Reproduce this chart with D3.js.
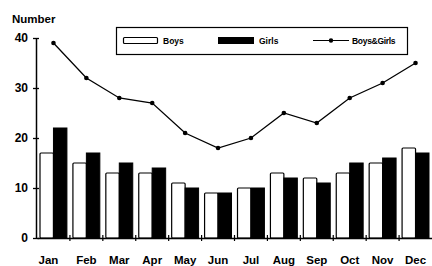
<!DOCTYPE html>
<html>
<head>
<meta charset="utf-8">
<script src="https://cdn.jsdelivr.net/npm/d3@7"></script>
<style>
  body { margin: 0; background: #fff; }
  svg { display: block; font-family: "Liberation Sans", Arial, sans-serif; font-weight: bold; }
</style>
</head>
<body>
<div id="chart"></div>
<script>
const months = ["Jan", "Feb", "Mar", "Apr", "May", "Jun", "Jul", "Aug", "Sep", "Oct", "Nov", "Dec"];
const boys = [17, 15, 13, 13, 11, 9, 10, 13, 12, 13, 15, 18];
const girls = [22, 17, 15, 14, 10, 9, 10, 12, 11, 15, 16, 17];
const total = [39, 32, 28, 27, 21, 18, 20, 25, 23, 28, 31, 35];
const yTicks = [0, 10, 20, 30, 40];

const width = 432;
const height = 266;
const margin = { top: 38, right: 0, bottom: 28, left: 37 };

const svg = d3.select("#chart")
  .append("svg")
  .attr("width", width)
  .attr("height", height);

const x = d3.scaleBand()
  .domain(months)
  .range([margin.left, width - margin.right]);

const sub = d3.scaleBand()
  .domain(["boys", "girls"])
  .range([3, x.bandwidth() - 3]);

const y = d3.scaleLinear()
  .domain([0, 40])
  .range([height - margin.bottom, margin.top]);

// bars
const data = months.map((m, i) => ({ month: m, boys: boys[i], girls: girls[i] }));
const groups = svg.selectAll(".month")
  .data(data)
  .enter()
  .append("g")
  .attr("transform", (d) => `translate(${x(d.month)}, 0)`);

groups.append("rect")
  .attr("x", sub("boys"))
  .attr("y", (d) => y(d.boys))
  .attr("width", sub.bandwidth())
  .attr("height", (d) => y(0) - y(d.boys))
  .attr("rx", 1)
  .attr("fill", "#fff")
  .attr("stroke", "#000")
  .attr("stroke-width", 1.2);

groups.append("rect")
  .attr("x", sub("girls"))
  .attr("y", (d) => y(d.girls))
  .attr("width", sub.bandwidth())
  .attr("height", (d) => y(0) - y(d.girls))
  .attr("fill", "#000")
  .attr("stroke", "#000")
  .attr("stroke-width", 1);

// line
const line = d3.line()
  .x((d, i) => x(months[i]) + x.bandwidth() / 2)
  .y((d) => y(d));

svg.append("path")
  .datum(total)
  .attr("d", line)
  .attr("fill", "none")
  .attr("stroke", "#000")
  .attr("stroke-width", 1.3);

svg.selectAll(".dot")
  .data(total)
  .enter()
  .append("circle")
  .attr("cx", (d, i) => x(months[i]) + x.bandwidth() / 2)
  .attr("cy", (d) => y(d))
  .attr("r", 2.3)
  .attr("fill", "#000");

// y axis
const yAxis = svg.append("g")
  .attr("transform", `translate(${margin.left - 1}, 0)`)
  .call(d3.axisLeft(y).tickValues(yTicks).tickSize(3).tickSizeOuter(0));
yAxis.select(".domain").attr("stroke-width", 1.5);
yAxis.selectAll(".tick line").attr("x1", 3).attr("x2", -3).attr("stroke-width", 1.3);
yAxis.selectAll(".tick text")
  .attr("x", -8)
  .attr("font-size", 12)
  .attr("font-weight", "bold")
  .attr("font-family", "Liberation Sans, Arial, sans-serif");

// x axis
const xAxis = svg.append("g")
  .attr("transform", `translate(0, ${y(0)})`)
  .call(d3.axisBottom(x).tickSize(0).tickSizeOuter(0));
xAxis.select(".domain").attr("stroke-width", 1.5);
xAxis.selectAll(".tick text")
  .attr("y", 18)
  .attr("dx", (d, i) => (i === 0 ? -5 : 0))
  .attr("font-size", 11.5)
  .attr("font-weight", "bold")
  .attr("font-family", "Liberation Sans, Arial, sans-serif");

svg.append("g")
  .selectAll("line")
  .data(months.slice(1))
  .enter()
  .append("line")
  .attr("x1", (d) => x(d))
  .attr("x2", (d) => x(d))
  .attr("y1", y(0) - 3)
  .attr("y2", y(0) + 3)
  .attr("stroke", "#000")
  .attr("stroke-width", 1.2);

svg.append("text")
  .attr("x", 12)
  .attr("y", 23)
  .attr("font-size", 11.5)
  .text("Number");

// legend
const legend = svg.append("g");
legend.append("rect")
  .attr("x", 116.5)
  .attr("y", 27.5)
  .attr("width", 291)
  .attr("height", 27)
  .attr("fill", "#fff")
  .attr("stroke", "#000")
  .attr("stroke-width", 1.2);

legend.append("rect")
  .attr("x", 123.5).attr("y", 37.5)
  .attr("width", 34).attr("height", 6)
  .attr("rx", 1)
  .attr("fill", "#fff").attr("stroke", "#000").attr("stroke-width", 1.2);
legend.append("text").attr("x", 163).attr("y", 44).attr("font-size", 8.5).text("Boys");

legend.append("rect")
  .attr("x", 218).attr("y", 37)
  .attr("width", 36).attr("height", 7)
  .attr("fill", "#000");
legend.append("text").attr("x", 259).attr("y", 44).attr("font-size", 8.5).text("Girls");

legend.append("line")
  .attr("x1", 313).attr("x2", 349).attr("y1", 40.5).attr("y2", 40.5)
  .attr("stroke", "#000").attr("stroke-width", 1);
legend.append("circle").attr("cx", 331).attr("cy", 40.5).attr("r", 2.2).attr("fill", "#000");
legend.append("text").attr("x", 352).attr("y", 44).attr("font-size", 8.5).attr("letter-spacing", -0.3).text("Boys&Girls");
</script>
</body>
</html>
